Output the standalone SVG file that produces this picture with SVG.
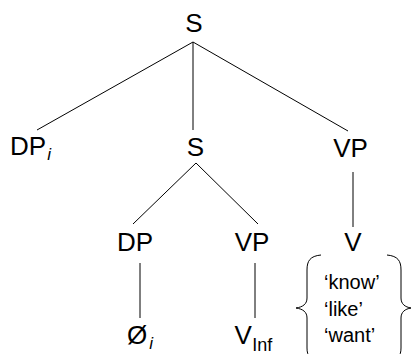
<svg xmlns="http://www.w3.org/2000/svg" width="412" height="354" viewBox="0 0 412 354">
<style>
text{font-family:"Liberation Sans",Arial,sans-serif;fill:#000}
.n{font-size:26px}
.c{text-anchor:middle}
.sub{font-size:17px}
.w{font-size:20px}
.e{stroke:#000;stroke-width:1;fill:none}
</style>
<rect width="412" height="354" fill="#fff"/>
<g id="connectors" class="e">
<line x1="193" y1="42" x2="37" y2="130"/>
<line x1="193" y1="42" x2="193" y2="130"/>
<line x1="193" y1="42" x2="348" y2="131"/>
<line x1="196" y1="163" x2="133" y2="224"/>
<line x1="196" y1="163" x2="258" y2="224"/>
<line x1="353" y1="172" x2="353" y2="227"/>
<line x1="140" y1="263" x2="140" y2="318"/>
<line x1="255" y1="263" x2="255" y2="318"/>
</g>
<g id="S-top"><text class="n c" x="194" y="32">S</text></g>
<g id="DP-i"><text class="n" x="10" y="155">DP<tspan class="sub" font-style="italic" dx="1" dy="5">i</tspan></text></g>
<g id="S-mid"><text class="n c" x="195.5" y="156">S</text></g>
<g id="VP-top"><text class="n c" x="350.5" y="157">VP</text></g>
<g id="DP"><text class="n c" x="135" y="251">DP</text></g>
<g id="VP"><text class="n c" x="252" y="251">VP</text></g>
<g id="V"><text class="n c" x="353" y="251">V</text></g>
<g id="null"><text class="n" x="127" y="344">Ø<tspan class="sub" font-style="italic" dx="2" dy="5">i</tspan></text></g>
<g id="V-Inf"><text class="n" x="234.5" y="344">V<tspan font-size="18px" dx="0.5" dy="7">Inf</tspan></text></g>
<g id="verbs">
<path class="e" d="M321,255 C310,256 307,261 307,270 L307,298 C307,304 303,307 296,308 C303,309 307,312 307,318 L307,348 C307,356 310,360 321,361"/>
<path class="e" d="M387,255 C398,256 401,261 401,270 L401,298 C401,304 405,307 411,308 C405,309 401,312 401,318 L401,348 C401,356 398,360 387,361"/>
<text class="w" x="324" y="289">‘know’</text>
<text class="w" x="324" y="316">‘like’</text>
<text class="w" x="324" y="342">‘want’</text>
</g>
</svg>
